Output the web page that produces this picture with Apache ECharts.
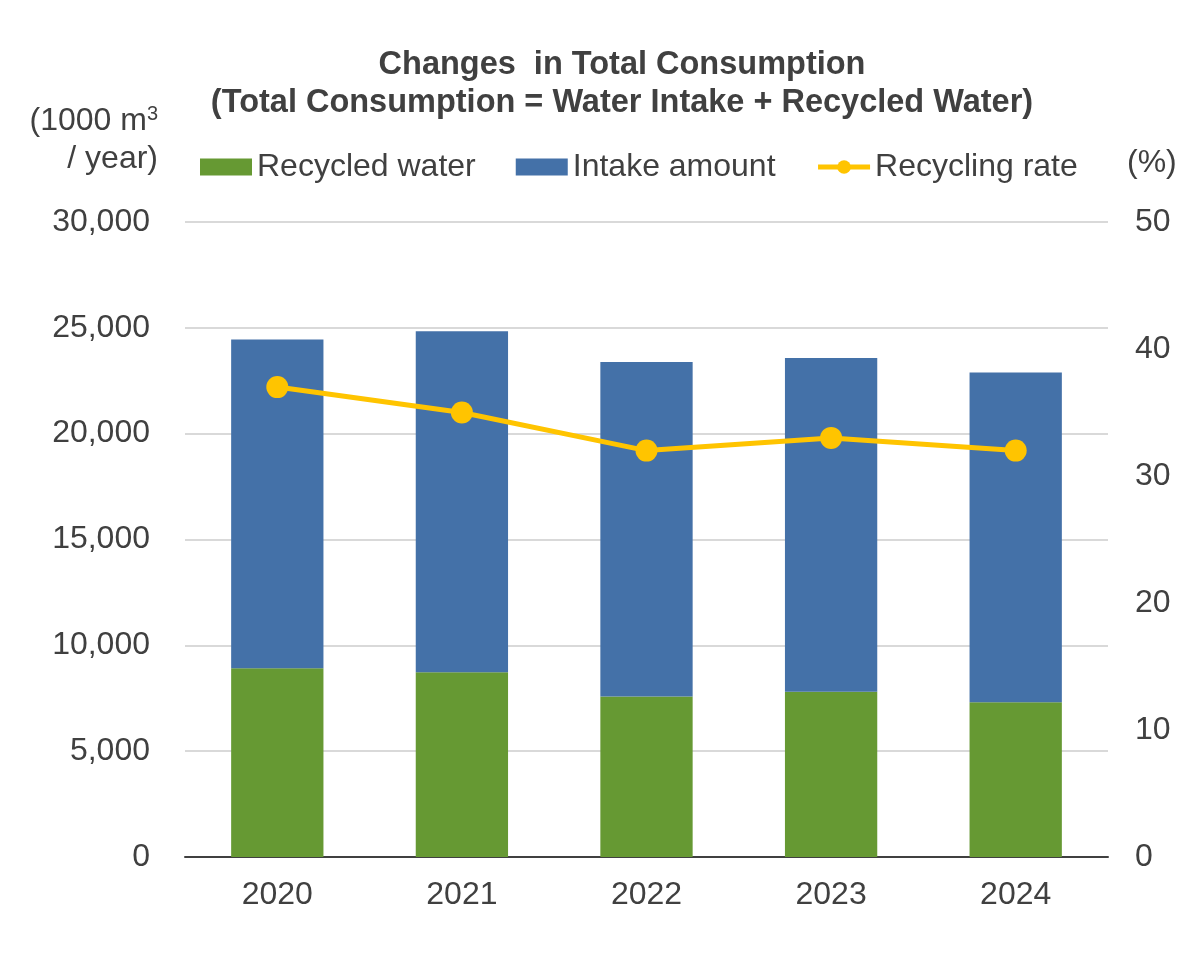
<!DOCTYPE html>
<html><head><meta charset="utf-8">
<script src="https://cdn.jsdelivr.net/npm/echarts@6/dist/echarts.min.js"></script>
<style>html,body{margin:0;padding:0;background:#fff}#c{width:1200px;height:957px}</style>
</head><body><div id="c"></div>
<script>
const years = ['2020','2021','2022','2023','2024'];
const recycledWater = [8920, 8730, 7580, 7810, 7310];
const intakeAmount = [15530, 16110, 15810, 15760, 15580];
const recyclingRate = [37, 35, 32, 33, 32];
const leftTicks = {min:0, max:30000, interval:5000};
const rightTicks = {min:0, max:50, interval:10};

const FONT = '"Liberation Sans", Arial, sans-serif';
const TXT = '#404040';
const FS = 32;
const chart = echarts.init(document.getElementById('c'));
chart.setOption({
  backgroundColor:'#fff',
  animation:false,
  textStyle:{fontFamily:FONT},
  title:{
    text:'Changes  in Total Consumption\n(Total Consumption = Water Intake + Recycled Water)',
    left:617, top:41, textAlign:'center',
    textStyle:{fontFamily:FONT, fontSize:32.5, fontWeight:'bold', color:TXT, lineHeight:38}
  },
  legend:{
    top:146, left:195, itemGap:40, itemWidth:52, itemHeight:17,
    textStyle:{fontFamily:FONT, fontSize:FS, color:TXT},
    data:[
      {name:'Recycled water', icon:'rect'},
      {name:'Intake amount', icon:'rect'},
      {name:'Recycling rate', lineStyle:{width:5, color:'#FFC400'}, itemStyle:{color:'#FFC400'}}
    ]
  },
  graphic:[
    {type:'text', right:1200-158, top:104, style:{
      text:'(1000 m{s|3}', font:FS+'px '+FONT, fill:TXT, textAlign:'right',
      rich:{s:{fontSize:20, fontFamily:FONT, fill:TXT, verticalAlign:'top', padding:[0,0,14,0]}}}},
    {type:'text', right:1200-158, top:143, style:{text:'/ year)', font:FS+'px '+FONT, fill:TXT, textAlign:'right'}},
    {type:'text', left:1127, top:147, style:{text:'(%)', font:FS+'px '+FONT, fill:TXT}}
  ],
  grid:{left:185, right:92, top:222, bottom:100, containLabel:false},
  xAxis:{
    type:'category', data:years,
    axisLine:{lineStyle:{color:'#404040', width:2}},
    axisTick:{show:false},
    axisLabel:{fontFamily:FONT, fontSize:FS, color:TXT, margin:22}
  },
  yAxis:[
    {type:'value', min:leftTicks.min, max:leftTicks.max, interval:leftTicks.interval,
     axisLine:{show:false}, axisTick:{show:false},
     axisLabel:{fontFamily:FONT, fontSize:FS, color:TXT, margin:35,
       formatter:v=>v.toLocaleString('en-US')},
     splitLine:{lineStyle:{color:'#d9d9d9', width:2}}},
    {type:'value', min:rightTicks.min, max:rightTicks.max, interval:rightTicks.interval,
     axisLine:{show:false}, axisTick:{show:false},
     axisLabel:{fontFamily:FONT, fontSize:FS, color:TXT, margin:27},
     splitLine:{show:false}}
  ],
  series:[
    {name:'Recycled water', type:'bar', stack:'t', data:recycledWater, barWidth:'50%',
     itemStyle:{color:'#669933'}},
    {name:'Intake amount', type:'bar', stack:'t', data:intakeAmount, barWidth:'50%',
     itemStyle:{color:'#4471A8'}},
    {name:'Recycling rate', type:'line', yAxisIndex:1, data:recyclingRate,
     symbol:'circle', symbolSize:22,
     lineStyle:{color:'#FFC400', width:5}, itemStyle:{color:'#FFC400'}}
  ]
});
</script></body></html>
